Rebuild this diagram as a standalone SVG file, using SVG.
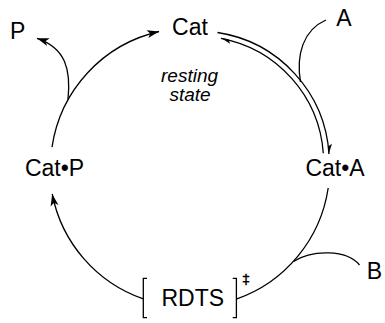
<svg xmlns="http://www.w3.org/2000/svg" width="385" height="323" viewBox="0 0 385 323">
  <style>
    .lbl { font-family: "Liberation Sans", Arial, sans-serif; font-size: 23px; fill: #000; }
    .note { font-family: "Liberation Sans", Arial, sans-serif; font-size: 19px; font-style: italic; fill: #000; }
    .dag { font-family: "DejaVu Sans", sans-serif; font-size: 14px; fill: #000; stroke: #000; stroke-width: 0.3; }
    .ln { fill: none; stroke: #000; stroke-width: 1.3; }
  </style>
  <defs>
    <marker id="arrow" markerUnits="userSpaceOnUse" viewBox="-13 -5 14 10" refX="0" refY="0" markerWidth="14" markerHeight="10" orient="auto">
      <path d="M0,0 L-12,-4 L-9,0 L-12,4 Z" fill="#000"/>
    </marker>
    <marker id="harpoon" markerUnits="userSpaceOnUse" viewBox="-12 -5 13 6" refX="0" refY="0" markerWidth="13" markerHeight="6" orient="auto">
      <path d="M0.5,0.4 L-10,-3.6 L-7.5,0.4 Z" fill="#000"/>
    </marker>
  </defs>

  <rect width="385" height="323" fill="#fff"/>

  <g id="connectors">
    <!-- Cat•P to Cat -->
    <path class="ln" d="M52,147.1 A139.5,139.5 0 0 1 159.1,31.5" marker-end="url(#arrow)"/>
    <!-- RDTS to Cat•P -->
    <path class="ln" d="M143.3,298.9 A139.5,139.5 0 0 1 52.2,194" marker-end="url(#arrow)"/>
    <!-- Cat•A to RDTS -->
    <path class="ln" d="M328.2,188 A139.5,139.5 0 0 1 236.3,299.1"/>
    <!-- equilibrium Cat / Cat•A -->
    <path class="ln" d="M217.5,32.5 A131.5,131.5 0 0 1 329,154" marker-end="url(#harpoon)"/>
    <path class="ln" d="M323.3,153.3 A126.2,126.2 0 0 0 221,38.3" marker-end="url(#harpoon)"/>
    <!-- A enters -->
    <path class="ln" d="M326,20 C303,30 296,55 300.5,82"/>
    <!-- B enters -->
    <path class="ln" d="M359.5,265 C347,249.5 312,249.5 293.5,261.5"/>
    <!-- P leaves -->
    <path class="ln" d="M68,99.5 C71,70 66,48 37,38.3" marker-end="url(#arrow)"/>
  </g>

  <g id="cat">
    <text class="lbl" x="190" y="35" text-anchor="middle">Cat</text>
  </g>
  <g id="resting-state">
    <text class="note" x="189.5" y="81.5" text-anchor="middle">resting</text>
    <text class="note" x="190" y="101" text-anchor="middle">state</text>
  </g>
  <g id="cat-a">
    <text class="lbl" x="335" y="175.5" text-anchor="middle">Cat•A</text>
  </g>
  <g id="cat-p">
    <text class="lbl" x="54.5" y="176" text-anchor="middle">Cat•P</text>
  </g>
  <g id="product">
    <text class="lbl" x="10" y="38.5">P</text>
  </g>
  <g id="substrate-a">
    <text class="lbl" x="343.8" y="25.5" text-anchor="middle">A</text>
  </g>
  <g id="substrate-b">
    <text class="lbl" x="374.5" y="278.5" text-anchor="middle">B</text>
  </g>
  <g id="rdts">
    <path class="ln" d="M147,278.3 H143.3 V317.7 H147"/>
    <path class="ln" d="M232.7,278.3 H236.4 V317.7 H232.7"/>
    <text class="lbl" x="192.8" y="305.5" text-anchor="middle">RDTS</text>
    <text class="dag" x="246" y="284" text-anchor="middle">‡</text>
  </g>
</svg>
